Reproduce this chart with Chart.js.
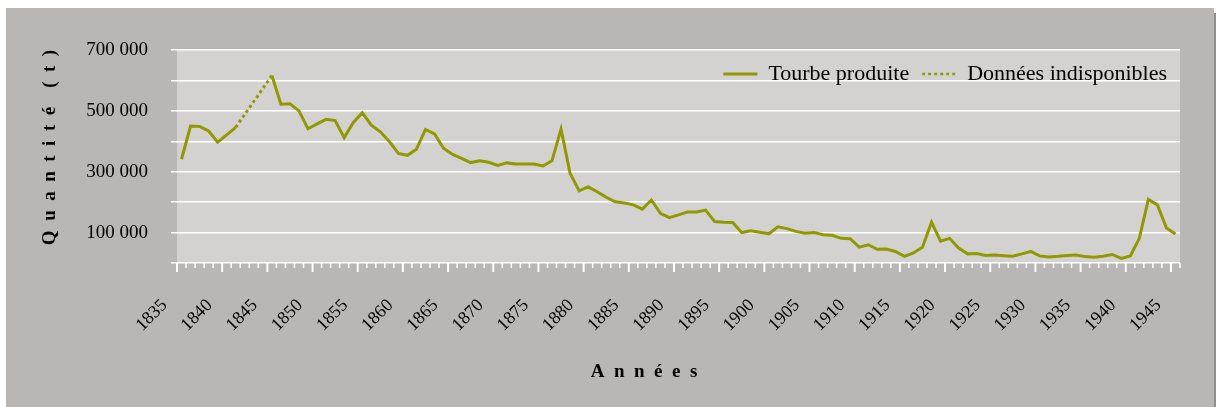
<!DOCTYPE html>
<html>
<head>
<meta charset="utf-8">
<script src="https://cdn.jsdelivr.net/npm/chart.js@4/dist/chart.umd.min.js"></script>
<style>
  html, body { margin: 0; padding: 0; background: #ffffff; }
  #frame {
    position: absolute; left: 6px; top: 8px; width: 1208px; height: 399px;
    background: #b8b7b5; box-shadow: 2px 5px 0 #8f8f8f;
  }
  #box { position: absolute; left: 0; top: 0; width: 1216px; height: 407px; }
</style>
</head>
<body>
<div id="frame"></div>
<div id="box"><canvas id="chart"></canvas></div>
<script>
// années
const years = [
  1835, 1836, 1837, 1838, 1839, 1840, 1841, 1842, 1843, 1844,
  1845, 1846, 1847, 1848, 1849, 1850, 1851, 1852, 1853, 1854,
  1855, 1856, 1857, 1858, 1859, 1860, 1861, 1862, 1863, 1864,
  1865, 1866, 1867, 1868, 1869, 1870, 1871, 1872, 1873, 1874,
  1875, 1876, 1877, 1878, 1879, 1880, 1881, 1882, 1883, 1884,
  1885, 1886, 1887, 1888, 1889, 1890, 1891, 1892, 1893, 1894,
  1895, 1896, 1897, 1898, 1899, 1900, 1901, 1902, 1903, 1904,
  1905, 1906, 1907, 1908, 1909, 1910, 1911, 1912, 1913, 1914,
  1915, 1916, 1917, 1918, 1919, 1920, 1921, 1922, 1923, 1924,
  1925, 1926, 1927, 1928, 1929, 1930, 1931, 1932, 1933, 1934,
  1935, 1936, 1937, 1938, 1939, 1940, 1941, 1942, 1943, 1944,
  1945
];

// tourbe produite (t), null = pas de données
const tourbe = [
  341000, 450000, 449000, 434000, 397000, 421000, 446000, null, null, null,
  616000, 522000, 523000, 500000, 441000, 457000, 472000, 468000, 412000, 461000,
  494000, 453000, 431000, 399000, 360000, 354000, 374000, 439000, 424000, 377000,
  357000, 344000, 330000, 336000, 331000, 321000, 329000, 325000, 325000, 325000,
  319000, 336000, 440000, 295000, 237000, 250000, 234000, 216000, 201000, 197000,
  191000, 177000, 207000, 163000, 149000, 158000, 168000, 168000, 174000, 136000,
  134000, 133000, 100000, 106000, 101000, 96000, 119000, 113000, 104000, 98000,
  100000, 93000, 91000, 81000, 80000, 52000, 60000, 45000, 46000, 38000,
  22000, 33000, 52000, 134000, 72000, 81000, 49000, 30000, 31000, 25000,
  26000, 24000, 22000, 30000, 38000, 23000, 20000, 22000, 25000, 26000,
  21000, 19000, 22000, 28000, 15000, 23000, 81000, 209000, 191000, 115000,
  95000
];

// tronçon sans données (1841 -> 1845)
const indispo = [
  null, null, null, null, null, null, 446000, null, null, null,
  616000
];

const xTickLabels = ['1835', '1840', '1845', '1850', '1855', '1860', '1865', '1870', '1875', '1880',
  '1885', '1890', '1895', '1900', '1905', '1910', '1915', '1920', '1925', '1930', '1935', '1940', '1945'];
const yTickValues = [100000, 300000, 500000, 700000];
const yTickLabels = ['100 000', '300 000', '500 000', '700 000'];

const olive = '#909a00';
const serif = "'Liberation Serif', 'Times New Roman', serif";

Chart.defaults.font.family = serif;
Chart.defaults.font.size = 19;
Chart.defaults.color = '#000';

// fond de la zone de tracé
const plotBg = {
  id: 'plotBg',
  beforeDraw(chart) {
    const a = chart.chartArea, ctx = chart.ctx;
    ctx.save();
    ctx.fillStyle = '#d3d2d0';
    ctx.fillRect(a.left, a.top, a.right - a.left, a.bottom - a.top);
    ctx.restore();
  }
};

// légende en haut, puis descendue dans la zone de tracé
const legendInside = {
  id: 'legendInside',
  beforeInit(chart) {
    const lg = chart.legend;
    if (!lg) return;
    const fit = lg.fit;
    lg.fit = function () {
      fit.call(this);
      this.height = 50;
    };
  },
  afterLayout(chart) {
    const lg = chart.legend;
    if (!lg) return;
    const dy = chart.chartArea.top - lg.top;
    lg.top += dy;
    lg.bottom += dy;
  }
};

// graduations sous l'axe des x (une par année, longue tous les 5 ans)
const xTicks = {
  id: 'xTicks',
  afterDraw(chart) {
    const xs = chart.scales.x, ctx = chart.ctx;
    const n = years.length;
    const w = xs.getPixelForValue(1) - xs.getPixelForValue(0);
    const y0 = chart.chartArea.bottom;
    ctx.save();
    ctx.strokeStyle = '#ffffff';
    for (let i = 0; i <= n; i++) {
      const x = (i < n ? xs.getPixelForValue(i) : xs.getPixelForValue(n - 1) + w) - w / 2;
      const major = i % 5 === 0;
      ctx.lineWidth = major ? 2 : 1.5;
      ctx.beginPath();
      ctx.moveTo(x, y0);
      ctx.lineTo(x, y0 + (major ? 9 : 5));
      ctx.stroke();
    }
    ctx.restore();
  }
};

// titres des axes, lettres espacées
const axisTitles = {
  id: 'axisTitles',
  afterDraw(chart) {
    const ctx = chart.ctx;
    ctx.save();
    ctx.fillStyle = '#000';
    ctx.font = 'bold 19px ' + serif;
    ctx.textAlign = 'center';
    ctx.textBaseline = 'alphabetic';
    ctx.fillText('A  n  n  é  e  s', 644, 377);
    ctx.translate(55, 147.5);
    ctx.rotate(-Math.PI / 2);
    ctx.fillText('Q  u  a  n  t  i  t  é    (  t  )', 0, 0);
    ctx.restore();
  }
};

new Chart(document.getElementById('chart'), {
  type: 'line',
  data: {
    labels: years,
    datasets: [
      {
        label: 'Tourbe produite',
        data: tourbe,
        borderColor: olive,
        backgroundColor: olive,
        borderWidth: 3,
        pointRadius: 0,
        tension: 0,
        spanGaps: false
      },
      {
        label: 'Données indisponibles',
        data: indispo,
        borderColor: olive,
        backgroundColor: olive,
        borderWidth: 3,
        borderDash: [3, 3],
        pointRadius: 0,
        tension: 0,
        spanGaps: true
      }
    ]
  },
  options: {
    responsive: true,
    maintainAspectRatio: false,
    animation: false,
    layout: { padding: { left: 0, top: 0, right: 36, bottom: 0 } },
    plugins: {
      tooltip: { enabled: false },
      legend: {
        position: 'top',
        align: 'end',
        labels: {
          usePointStyle: true,
          pointStyle: 'line',
          pointStyleWidth: 34,
          padding: 13,
          color: '#000',
          font: { family: serif, size: 22 },
          generateLabels(chart) {
            const items = Chart.defaults.plugins.legend.labels.generateLabels(chart);
            items.forEach((it, i) => {
              it.lineDash = chart.data.datasets[i].borderDash || [];
              it.lineWidth = i === 0 ? 3 : 2.5;
            });
            return items;
          }
        }
      }
    },
    scales: {
      x: {
        type: 'category',
        offset: true,
        grid: { display: false },
        border: { display: false },
        afterFit(scale) { scale.height = 144; },
        ticks: {
          autoSkip: false,
          minRotation: 45,
          maxRotation: 45,
          padding: 24,
          labelOffset: -17,
          color: '#000',
          font: { family: serif, size: 18 },
          callback(value, index) {
            const lab = String(years[index]);
            return xTickLabels.indexOf(lab) >= 0 ? lab : '';
          }
        }
      },
      y: {
        min: 0,
        max: 700000,
        border: { display: false },
        afterFit(scale) { scale.width = 177; },
        grid: { color: '#ffffff', lineWidth: 1.5, tickLength: 6 },
        ticks: {
          stepSize: 100000,
          padding: 23,
          color: '#000',
          font: { family: serif, size: 19 },
          callback(value) {
            const k = yTickValues.indexOf(value);
            return k >= 0 ? yTickLabels[k] : '';
          }
        }
      }
    }
  },
  plugins: [plotBg, legendInside, xTicks, axisTitles]
});
</script>
</body>
</html>
